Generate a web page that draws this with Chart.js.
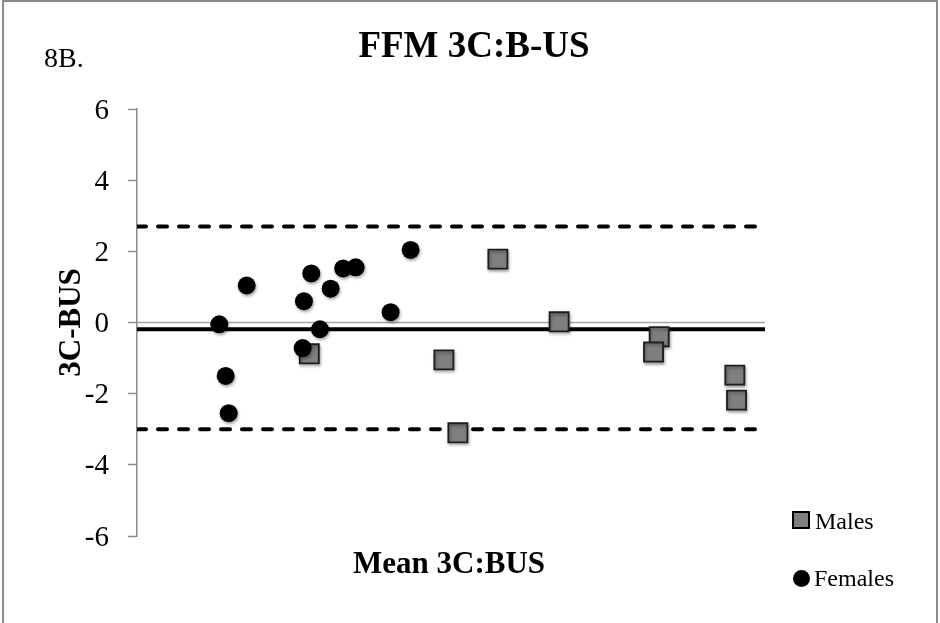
<!DOCTYPE html>
<html>
<head>
<meta charset="utf-8">
<script src="https://cdn.jsdelivr.net/npm/chart.js@4/dist/chart.umd.min.js"></script>
<style>
  html, body { margin: 0; padding: 0; background: #ffffff; }
  #wrap { position: relative; width: 940px; height: 623px; }
  canvas { display: block; }
</style>
</head>
<body>
<div id="wrap"><canvas id="chart" width="940" height="623"></canvas></div>
<script>
// Bland–Altman plot: difference (3C − BUS) against mean fat-free mass
const femalesMean = [37.86, 40.48, 38.47, 38.76, 46.65, 45.95, 48.50, 49.70, 50.89, 56.14, 54.23, 47.48, 45.83];
const femalesDiff = [-0.05, 1.04, -1.50, -2.55, 1.38, 0.60, 0.95, 1.52, 1.55, 2.04, 0.29, -0.19, -0.72];
const malesMean = [46.46, 59.32, 60.66, 64.48, 70.33, 79.89, 79.35, 87.12, 87.28];
const malesDiff = [-0.88, -1.05, -3.10, 1.78, 0.02, -0.40, -0.83, -1.48, -2.18];

// Bias and 95% limits of agreement
const meanBias = -0.19;
const upperLimit = 2.70;
const lowerLimit = -3.00;

const xRange = [30, 90];
const yTicks = [-6, -4, -2, 0, 2, 4, 6];

const seriesNames = ['Males', 'Females'];
const chartTitle = 'FFM 3C:B-US';
const panelLabel = '8B.';
const xTitle = 'Mean 3C:BUS';
const yTitle = '3C-BUS';

const SERIF = '"Liberation Serif", "Times New Roman", serif';

const toPoints = (xs, ys) => xs.map((x, i) => ({ x, y: ys[i] }));
const flat = (v) => [{ x: xRange[0], y: v }, { x: xRange[1], y: v }];

// Soft drop shadow under the markers
const markerShadow = {
  id: 'markerShadow',
  beforeDatasetDraw(chart, args) {
    if (chart.data.datasets[args.index].type !== 'scatter') return;
    const ctx = chart.ctx;
    ctx.save();
    ctx.shadowColor = 'rgba(0,0,0,0.35)';
    ctx.shadowBlur = 3;
    ctx.shadowOffsetX = 1;
    ctx.shadowOffsetY = 2;
  },
  afterDatasetDraw(chart, args) {
    if (chart.data.datasets[args.index].type !== 'scatter') return;
    chart.ctx.restore();
  }
};

// Frame, titles and legend
const decorations = {
  id: 'decorations',
  afterDraw(chart) {
    const ctx = chart.ctx;
    const area = chart.chartArea;
    ctx.save();

    // outer frame
    ctx.strokeStyle = '#8c8c8c';
    ctx.lineWidth = 2;
    ctx.strokeRect(3, 1, 934, 660);

    ctx.fillStyle = '#000';
    ctx.textBaseline = 'alphabetic';

    // main title
    ctx.font = 'bold 37px ' + SERIF;
    ctx.textAlign = 'center';
    ctx.fillText(chartTitle, 474, 57);

    // panel label
    ctx.font = '28px ' + SERIF;
    ctx.textAlign = 'left';
    ctx.fillText(panelLabel, 44, 67);

    // axis titles
    ctx.font = 'bold 31px ' + SERIF;
    ctx.textAlign = 'center';
    ctx.fillText(xTitle, (area.left + area.right) / 2 - 2, 573);
    ctx.save();
    ctx.translate(80, (area.top + area.bottom) / 2);
    ctx.rotate(-Math.PI / 2);
    ctx.fillText(yTitle, 0, 0);
    ctx.restore();

    // legend
    const males = chart.data.datasets[1];
    const females = chart.data.datasets[0];
    ctx.fillStyle = males.backgroundColor;
    ctx.fillRect(793, 512, 16, 16);
    ctx.strokeStyle = '#000';
    ctx.lineWidth = 2;
    ctx.strokeRect(793, 512, 16, 16);
    ctx.beginPath();
    ctx.arc(801.5, 578.5, 8.5, 0, Math.PI * 2);
    ctx.fillStyle = females.backgroundColor;
    ctx.fill();

    ctx.fillStyle = '#000';
    ctx.font = '24px ' + SERIF;
    ctx.textAlign = 'left';
    ctx.fillText(seriesNames[0], 815, 529);
    ctx.fillText(seriesNames[1], 814, 586);
    ctx.restore();
  }
};

new Chart(document.getElementById('chart'), {
  data: {
    datasets: [
      {
        type: 'scatter',
        label: seriesNames[1],
        data: toPoints(femalesMean, femalesDiff),
        pointStyle: 'circle',
        pointRadius: 9,
        backgroundColor: '#000000',
        borderWidth: 0
      },
      {
        type: 'scatter',
        label: seriesNames[0],
        data: toPoints(malesMean, malesDiff),
        pointStyle: 'rect',
        pointRadius: 13.5,
        backgroundColor: '#7f7f7f',
        borderColor: '#1e1e1e',
        borderWidth: 1.8
      },
      {
        type: 'line',
        label: 'Mean difference',
        data: flat(meanBias),
        borderColor: '#000',
        borderWidth: 4,
        pointRadius: 0
      },
      {
        type: 'line',
        label: 'Upper limit',
        data: flat(upperLimit),
        borderColor: '#000',
        borderWidth: 4,
        borderDash: [9, 12],
        borderCapStyle: 'round',
        pointRadius: 0
      },
      {
        type: 'line',
        label: 'Lower limit',
        data: flat(lowerLimit),
        borderColor: '#000',
        borderWidth: 4,
        borderDash: [9, 12],
        borderCapStyle: 'round',
        pointRadius: 0
      },
      {
        type: 'line',
        label: 'Zero',
        data: flat(0),
        borderColor: '#a6a6a6',
        borderWidth: 1.5,
        pointRadius: 0
      }
    ]
  },
  options: {
    responsive: false,
    animation: false,
    events: [],
    layout: { padding: { top: 109, bottom: 87, left: 0, right: 175 } },
    plugins: {
      legend: { display: false },
      title: { display: false },
      tooltip: { enabled: false }
    },
    scales: {
      x: {
        type: 'linear',
        min: xRange[0],
        max: xRange[1],
        display: false
      },
      y: {
        type: 'linear',
        min: yTicks[0],
        max: yTicks[yTicks.length - 1],
        afterBuildTicks(scale) {
          scale.ticks = yTicks.map(v => ({ value: v }));
        },
        afterFit(scale) { scale.width = 137; },
        border: { display: true, color: '#8c8c8c', width: 1.5 },
        grid: {
          drawOnChartArea: false,
          drawTicks: true,
          tickLength: 9,
          tickColor: '#8c8c8c',
          tickWidth: 1.5
        },
        ticks: {
          color: '#000',
          padding: 19,
          labelOffset: 2,
          font: { family: SERIF, size: 29 }
        }
      }
    }
  },
  plugins: [markerShadow, decorations]
});
</script>
</body>
</html>
